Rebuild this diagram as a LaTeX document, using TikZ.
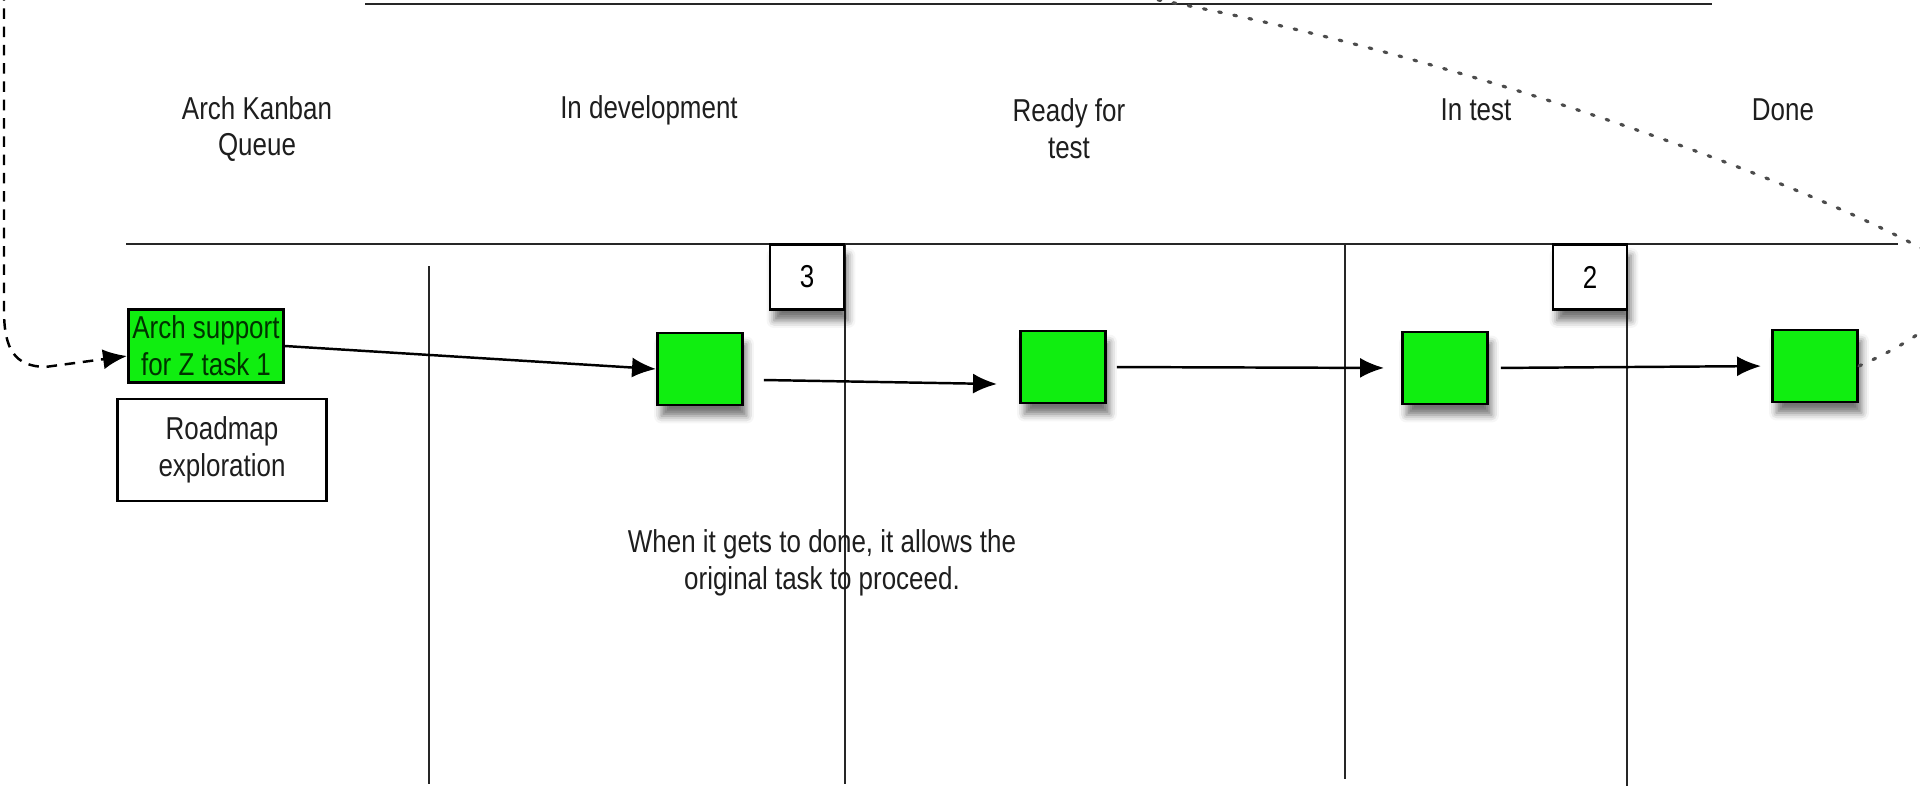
\documentclass[tikz,border=0pt]{standalone}
\usepackage{fontspec}
\setmainfont{Liberation Sans}[FakeStretch=0.82]
\usetikzlibrary{arrows.meta, positioning, shadows.blur}
\definecolor{cardgreen}{RGB}{16,238,16}
\definecolor{inkgray}{RGB}{30,30,30}

\begin{document}
\begin{tikzpicture}[
		x=0.01cm, y=-0.01cm,
		font=\fontsize{9}{10.5}\selectfont,
		lane/.style={line width=0.6pt, draw=black!85},
		heading/.style={align=center, text=inkgray},
		card/.style={rectangle, draw, fill=cardgreen, line width=0.8pt, minimum width=0.85cm, minimum height=0.72cm, inner sep=0pt, blur shadow={shadow xshift=0.4mm, shadow yshift=-1.1mm, shadow opacity=55}},
		limitbox/.style={rectangle, draw, fill=white, line width=0.8pt, minimum width=0.74cm, minimum height=0.65cm, inner sep=0pt, blur shadow={shadow xshift=0.4mm, shadow yshift=-1.1mm, shadow opacity=55}},
		flow/.style={-{Latex[length=2.4mm, width=2mm]}, line width=0.7pt},
		reqflow/.style={-{Latex[length=2.4mm, width=2mm]}, line width=0.7pt, dash pattern=on 3pt off 2.2pt},
		loopback/.style={draw=black!70, line width=0.9pt, dash pattern=on 0.8pt off 3.6pt, line cap=round}
		]
		\useasboundingbox (0,0) rectangle (1920,793);
		\clip (0,0) rectangle (1920,793);
		
		% Board lines
		\draw[lane] (365,4) -- (1712,4);
		\draw[lane] (126,244) -- (1898,244);
		\draw[lane] (429,266) -- (429,784);
		\draw[lane] (845,244) -- (845,784);
		\draw[lane] (1345,244) -- (1345,779);
		\draw[lane] (1627,244) -- (1627,786);
		
		% Headings
		\node (hqueue) [heading] at (257,129) {Arch Kanban\\Queue};
		\node (hdev) [heading] at (649,110) {In development};
		\node (hready) [heading] at (1069,129) {Ready for\\test};
		\node (htest) [heading] at (1476,110) {In test};
		\node (hdone) [heading] at (1783,110) {Done};
		
		% WIP limits
		\node (lim3) [limitbox] at (807,277) {3};
		\node (lim2) [limitbox] at (1590,277) {2};
		
		% Nodes
		\node (arch) [rectangle, draw, fill=cardgreen, line width=0.8pt, minimum width=1.55cm, minimum height=0.73cm, inner sep=0pt, align=center, text=black!80!green] at (206,346) {Arch support\\for Z task 1};
		\node (roadmap) [rectangle, draw, line width=0.8pt, minimum width=2.09cm, minimum height=1.02cm, align=center, text=inkgray] at (222,450) {Roadmap\\exploration};
		\node (dev1) [card] at (700,369) {};
		\node (rft1) [card] at (1063,367) {};
		\node (test1) [card] at (1445,368) {};
		\node (done1) [card] at (1815,366) {};
		
		\node (note) [heading] at (822,563) {When it gets to done, it allows the\\original task to proceed.};
		
		% Arrows
		\draw [flow] (arch.east) -- (dev1.west);
		\draw [flow] ([xshift=2mm, yshift=-1.1mm]dev1.east) -- ([xshift=-2.2mm, yshift=-1.7mm]rft1.west);
		\draw [flow, shorten <=1mm, shorten >=1.7mm] (rft1.east) -- (test1.west);
		\draw [flow, shorten <=1.2mm, shorten >=1mm] (test1.east) -- (done1.west);
		
		% Links to the original task
		\coordinate (queuein) at (4,-10);
		\draw [reqflow] (queuein) -- (4,310) .. controls (4,350) and (15,366) .. (45,367) -- ([yshift=-1mm]arch.west);
		\coordinate (loopturn) at (1945,262);
		\coordinate (loopout) at (1100,-10);
		\draw [loopback] (done1.east) .. controls (1930,335) and (1985,290) .. (loopturn) .. controls (1820,185) and (1420,40) .. (loopout);
		
	\end{tikzpicture}
\end{document}
